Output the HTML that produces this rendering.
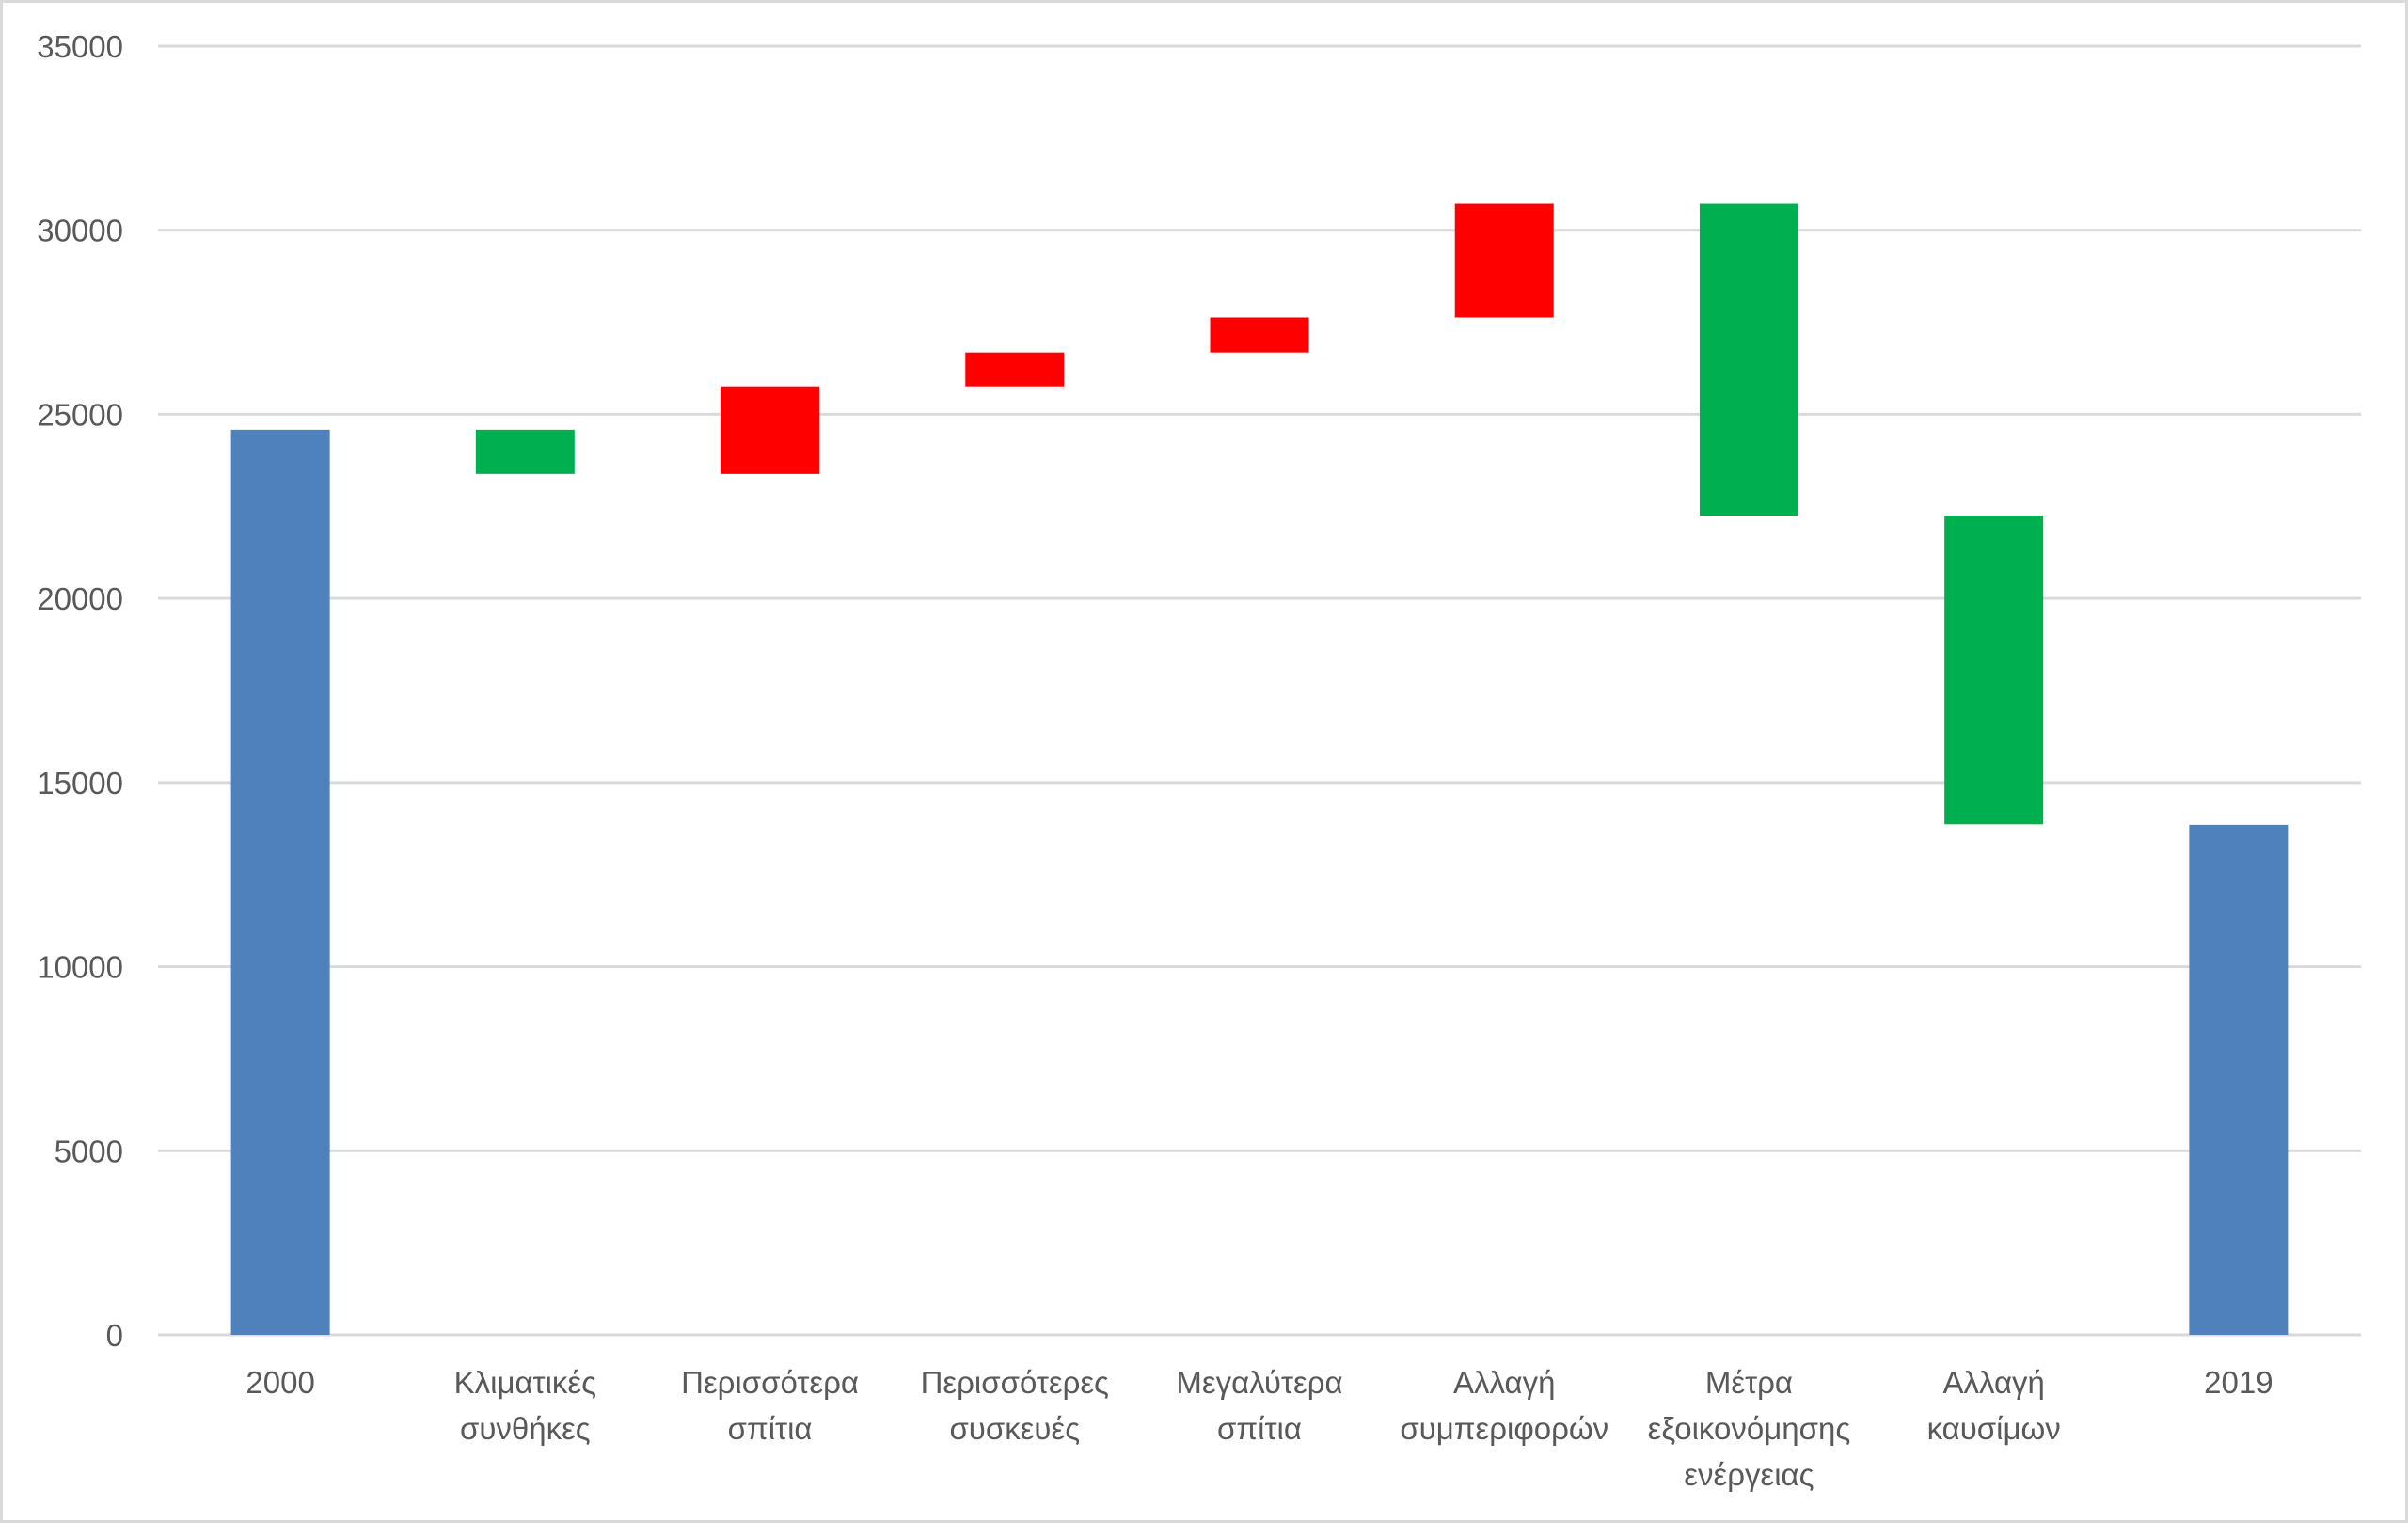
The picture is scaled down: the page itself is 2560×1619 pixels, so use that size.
<!DOCTYPE html>
<html><head><meta charset="utf-8"><style>
html,body{margin:0;padding:0;background:#fff}
svg{display:block}
text{font-family:"Liberation Sans","DejaVu Sans",sans-serif;fill:#595959}
</style></head><body>
<svg id="chart" width="2560" height="1619" viewBox="0 0 2560 1619" xmlns="http://www.w3.org/2000/svg">
<rect x="1.5" y="1.5" width="2557" height="1616" fill="#fff" stroke="#d9d9d9" stroke-width="3"/>
<g id="grid"></g><g id="bars"></g><g id="labels"></g>
</svg>
<script>
const categories=[["2000"],["Κλιματικές","συνθήκες"],["Περισσότερα","σπίτια"],["Περισσότερες","συσκευές"],["Μεγαλύτερα","σπίτια"],["Αλλαγή","συμπεριφορών"],["Μέτρα","εξοικονόμησης","ενέργειας"],["Αλλαγή","καυσίμων"],["2019"]];
const deltas=[24580,-1200,2380,920,950,3090,-8470,-8385,13850];
const isTotal=[true,false,false,false,false,false,false,false,true];
const yTicks=[0,5000,10000,15000,20000,25000,30000,35000];
const NS="http://www.w3.org/2000/svg";
const x0=168,x1=2510,yZero=1419,yTop=49,yMax=35000;
const band=(x1-x0)/categories.length, barW=105;
function yS(v){return yZero-(v/yMax)*(yZero-yTop);}
function xC(i){return x0+band*(i+0.5);}
function mk(t,a,p){const e=document.createElementNS(NS,t);for(const k in a)e.setAttribute(k,a[k]);p.appendChild(e);return e;}
const grid=document.getElementById('grid'),bars=document.getElementById('bars'),labels=document.getElementById('labels');
yTicks.forEach(v=>{
  const l=mk('line',{x1:x0,x2:x1,y1:yS(v),y2:yS(v),stroke:'#d9d9d9','stroke-width':3},grid);
  
  
  const t=mk('text',{x:131,y:yS(v)+12,'text-anchor':'end','font-size':33},labels);
  t.textContent=v;
  
  
});
let run=0;
deltas.forEach((d,i)=>{
  let lo,hi,col;
  if(isTotal[i]){lo=0;hi=d;run=d;col='#4f81bd';}
  else{const n=run+d;lo=Math.min(run,n);hi=Math.max(run,n);col=d<0?'#00b050':'#ff0000';run=n;}
  const r=mk('rect',{x:xC(i)-barW/2,y:yS(hi),width:barW,height:yS(lo)-yS(hi),fill:col},bars);
  
  
  categories[i].forEach((s,j)=>{
    const t=mk('text',{x:xC(i),y:1481+j*49,'text-anchor':'middle','font-size':33},labels);
    t.textContent=s;
    
    
  });
});
</script>
</body></html>
